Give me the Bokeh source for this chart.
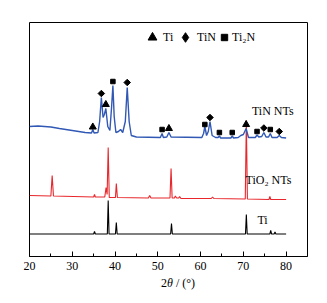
import math
from bokeh.plotting import figure
from bokeh.models import Range1d, FixedTicker, Legend, LegendItem, Div
from bokeh.layouts import column
from bokeh.core.properties import value
from bokeh.embed import file_html
from bokeh.resources import INLINE

# ---------------- data (arbitrary offset intensity) ----------------
ti_x = [20, 35.0, 35.2, 35.4, 38.2, 38.4, 38.6, 40.1, 40.3, 40.5, 53.0, 53.2, 53.4,
        70.5, 70.7, 70.9, 76.2, 76.4, 76.6, 77.2, 77.4, 77.6, 80]
ti_y = [22.5, 22.5, 25, 22.5, 22.5, 56, 22.5, 22.5, 34, 22.5, 22.5, 33, 22.5,
        22.5, 42, 22.5, 22.5, 26, 22.5, 22.5, 24.5, 22.5, 22.5]

tio2_x = [20, 25.0, 25.3, 25.6, 35.0, 35.2, 35.4, 37.6, 37.9, 38.15, 38.4, 38.65,
          40.1, 40.3, 40.55, 47.8, 48.1, 48.4, 52.85, 53.1, 53.35, 53.9, 54.1, 54.4,
          54.9, 55.1, 55.4, 62.5, 62.8, 63.1, 70.45, 70.7, 70.95, 76.0, 76.2, 76.4, 80]
tio2_y = [61, 60.5, 81, 60.5, 59.5, 62, 59.5, 59.5, 69, 62, 109, 59,
          59, 73, 59, 58.5, 61, 58.5, 58.5, 88, 58.5, 58.5, 60.5, 58.5,
          58.5, 60, 58, 58, 59.5, 58, 57.5, 136, 57.5, 57, 60, 57, 57]

tin_x = [20, 22, 25, 27, 30, 33, 34.5, 34.8, 35.1, 36.0, 36.4, 36.8, 37.2, 37.5,
         37.85, 38.3, 38.8, 39.2, 39.5, 39.8, 40.2, 40.8, 41.3, 41.8, 42.4, 42.85,
         43.3, 43.8, 45, 50.6, 51.0, 51.3, 52.1, 52.6, 53.1, 60.3, 60.7, 61.0, 61.4,
         61.8, 62.2, 62.7, 63.5, 64.1, 64.4, 64.7, 67.1, 67.4, 67.7, 68.8, 69.4, 70.0,
         70.65, 71.2, 72.8, 73.2, 73.6, 74.3, 74.8, 75.3, 75.9, 76.3, 76.7, 77.9,
         78.4, 78.9, 80]
tin_y = [130, 130.5, 129.5, 128, 126, 124, 123.5, 127, 123.5, 124, 135, 159, 139, 142,
         148, 130, 126, 150, 171, 140, 124, 125, 127, 124, 135, 169,
         135, 121, 119.5, 119, 123, 119, 119.5, 124, 119.5, 119, 123, 130, 121,
         125, 135, 121, 119, 119, 120.5, 118.5, 118.5, 120.5, 118.5, 119, 121, 122,
         128, 119, 119, 121.5, 119.5, 120, 124, 119.5, 119.5, 123, 119, 119,
         121, 119, 118.5]

# phase markers on the TiN NTs pattern
mk_ti_x = [34.8, 37.85, 52.6, 70.65]
mk_ti_y = [129.5, 152, 128, 132]
mk_tin_x = [36.8, 42.85, 62.2, 74.8, 78.4]
mk_tin_y = [163, 174, 139, 128.5, 125]
mk_ti2n_x = [39.5, 51.0, 61.0, 64.4, 67.4, 73.2, 76.3]
mk_ti2n_y = [175, 127, 132, 124, 124, 125, 127]

x_ticks = [20, 30, 40, 50, 60, 70, 80]
x_minor = [25, 35, 45, 55, 65, 75]
legend_labels = ["Ti", "TiN", "Ti\u2082N"]
series_labels = ["TiN NTs", "TiO\u2082 NTs", "Ti"]
x_title_html = "2<i>\u03b8</i> / (\u00b0)"

# ---------------- styling ----------------
FONT = "Liberation Serif"
FS = "12px"
BLUE = "#3058b4"
RED = "#e8262b"

p = figure(width=318, height=276, output_backend="svg", toolbar_location=None,
           x_range=Range1d(20, 85), y_range=Range1d(0, 234),
           y_axis_location=None, min_border_left=29, min_border_right=11,
           min_border_top=22, min_border_bottom=20)
p.grid.visible = False
p.outline_line_color = "black"
p.outline_line_width = 1
p.background_fill_color = "white"
p.border_fill_color = "white"

ax = p.xaxis[0]
ax.ticker = FixedTicker(ticks=x_ticks, minor_ticks=x_minor)
ax.major_tick_in = 5
ax.major_tick_out = 0
ax.minor_tick_in = 3
ax.minor_tick_out = 0
ax.major_tick_line_color = "black"
ax.minor_tick_line_color = "black"
ax.axis_line_color = "black"
ax.major_label_text_font = FONT
ax.major_label_text_font_size = FS
ax.major_label_text_color = "black"
ax.major_label_standoff = 5

p.line(ti_x, ti_y, line_color="black", line_width=1.1)
p.line(tio2_x, tio2_y, line_color=RED, line_width=1.1)
p.line(tin_x, tin_y, line_color=BLUE, line_width=1.4)

r_ti = p.scatter(mk_ti_x, mk_ti_y, marker="triangle", size=7, color="black")
p.scatter(mk_tin_x, mk_tin_y, marker="square", angle=math.pi / 4, size=4.6, color="black")
r_ti2n = p.scatter(mk_ti2n_x, mk_ti2n_y, marker="square", size=4.5, color="black")
# hidden copy used only as the legend key for TiN (legend keys ignore rotation)
k_tin = p.scatter(mk_tin_x, mk_tin_y, marker="diamond", size=9, color="black", visible=False)

# one small legend per phase so each key symbol gets its own size
for rend, lab, g, loc in [(r_ti, legend_labels[0], 22, (112, 208)),
                          (k_tin, legend_labels[1], 24, (144, 207)),
                          (r_ti2n, legend_labels[2], 16, (187, 211))]:
    lg = Legend(items=[LegendItem(label=lab, renderers=[rend])], location=loc)
    lg.label_text_font = FONT
    lg.label_text_font_size = FS
    lg.label_text_color = "black"
    lg.border_line_color = None
    lg.background_fill_alpha = 0
    lg.inactive_fill_alpha = 0
    lg.padding = 0
    lg.margin = 0
    lg.glyph_width = g
    lg.glyph_height = g
    lg.label_standoff = 0
    lg.label_height = g
    p.add_layout(lg, "center")

label_pos = [(72.0, 146), (70.5, 77), (73.3, 37)]
for (lx, ly), txt in zip(label_pos, series_labels):
    p.text(x=[lx], y=[ly], text=[txt], text_font=value(FONT), text_font_size=FS,
           text_color="black", text_baseline="middle", text_align="left")

title = Div(text=x_title_html, width=157, height=20, margin=(0, 0, 0, 161),
            styles={"font-family": FONT, "font-size": FS, "color": "black",
                    "line-height": "14px"})

layout = column(p, title, spacing=0)
open("out.html", "w").write(file_html(layout, INLINE))
